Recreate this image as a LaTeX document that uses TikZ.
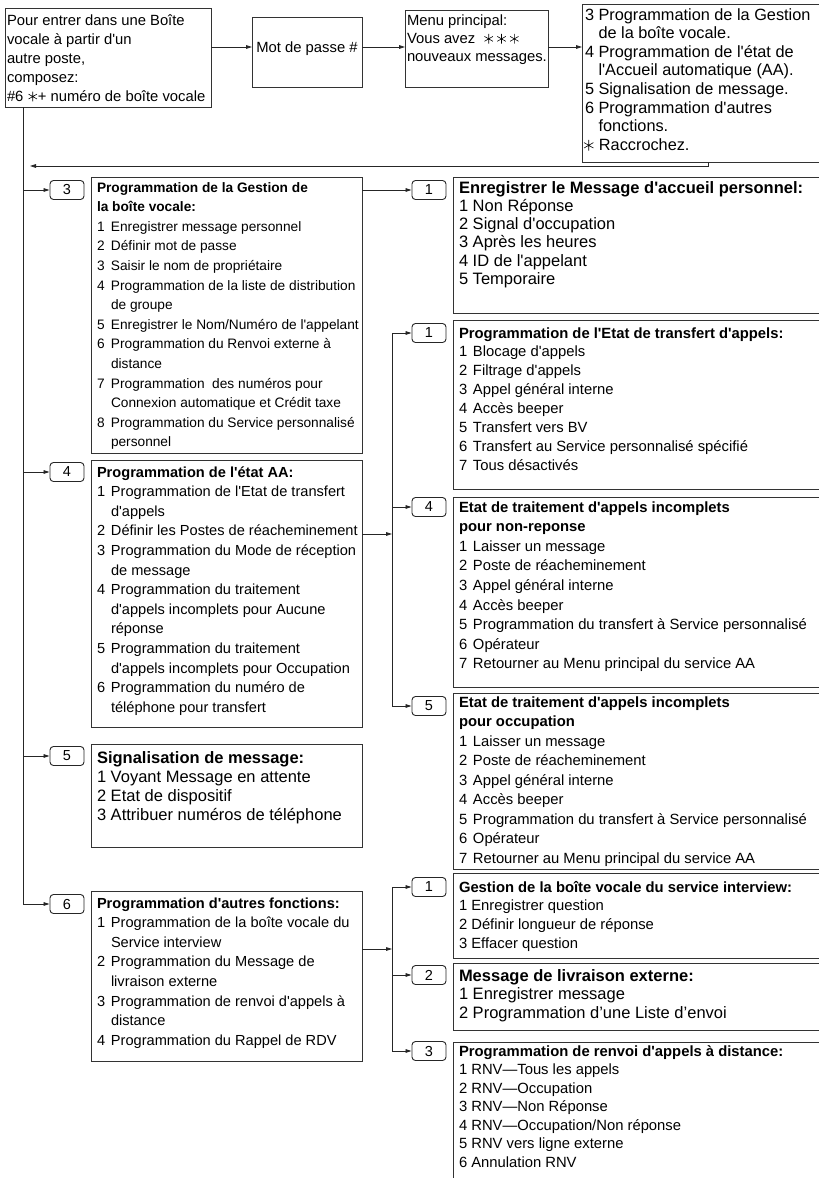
\documentclass[tikz,border=0pt]{standalone}
\usepackage{fontspec}
\setmainfont{Liberation Sans}
\usetikzlibrary{arrows.meta,fit}
\newcommand\aq{\textquotesingle}
\newcommand\fs[2]{\fontsize{#1}{#2}\selectfont}
\def\hind{14pt}
\newcommand\pl[1]{\hbox{#1}}
\newcommand\ttl[1]{\hbox{\bfseries #1}}
\newcommand\en[2]{\hbox{\makebox[\hind][l]{#1}#2}}
\newcommand\cn[1]{\hbox{\hspace*{\hind}#1}}
\newcommand\sx{\tikz[baseline=0pt,x=1pt,y=1pt,line width=0.6pt]{\path (0,-0.05em) rectangle (0.7em,0.65em);\draw (0.35em,-0.03em)--(0.35em,0.63em) (0.064em,0.135em)--(0.636em,0.465em) (0.064em,0.465em)--(0.636em,0.135em);}}
\begin{document}
\begin{tikzpicture}[x=1pt,y=-1pt,
  box/.style={draw=black!80,line width=0.9pt,inner sep=0pt,outer sep=0pt},
  key/.style={draw=black!85,line width=0.9pt,rounded corners=3.5pt,minimum width=34pt,minimum height=19pt,inner sep=0pt,font=\fs{14.5}{16}},
  txt/.style={anchor=base west,inner sep=0pt,outer sep=0pt},
  ln/.style={draw=black!85,line width=0.8pt},
  arr/.style={ln,-{Triangle[length=6pt,width=3.6pt]}}]
\useasboundingbox (0,0) rectangle (819,1178);
\clip (0,0) rectangle (819,1178);
% ---------- top row ----------
\node[box,fit={(5,8) (211,107)}] (A) {};
\node[txt] (tA) at (7,25) {\fs{14.8}{19}\vtop{%
\pl{Pour entrer dans une Boîte}
\pl{vocale à partir d\aq un}
\pl{autre poste,}
\pl{composez:}
\pl{\#6 \sx+ numéro de boîte vocale}}};
\node[box,fit={(252,17) (362,87)}] (P) {};
\node[anchor=base,inner sep=0pt,font=\fs{14.8}{18}] (tP) at (307,52) {Mot de passe \#};
\node[box,fit={(405,10) (548,87)}] (M) {};
\node[txt] (tM) at (407,25) {\fs{14.8}{18.3}\vtop{%
\pl{Menu principal:}
\pl{Vous avez \ \sx\,\sx\,\sx}
\pl{nouveaux messages.}}};
\node[box,fit={(582,4) (830,162)}] (O) {};
\node[txt] (tO) at (585,20) {\def\hind{13.5pt}\fs{16.3}{18.6}\vtop{%
\en{3}{Programmation de la Gestion}
\cn{de la boîte vocale.}
\en{4}{Programmation de l\aq état de}
\cn{l\aq Accueil automatique (AA).}
\en{5}{Signalisation de message.}
\en{6}{Programmation d\aq autres}
\cn{fonctions.}
\pl{\hspace*{-2pt}\sx\ Raccrochez.}}};
\coordinate (ya) at (0,47);
\draw[arr] (A.east |- ya) -- (P.west |- ya);
\draw[arr] (P.east |- ya) -- (M.west |- ya);
\draw[arr] (M.east |- ya) -- (O.west |- ya);
% return line
\coordinate (r0) at (708,162);
\coordinate (r1) at (30,166);
\draw[arr] (r0) |- (r1);
% ---------- left column ----------
\node[key] (k3) at (67,190) {3};
\node[key] (k4) at (67,472) {4};
\node[key] (k5) at (67,756) {5};
\node[key] (k6) at (67,904) {6};
\coordinate (t0) at (23,107);
\draw[arr] (t0) |- (k6.west);
\draw[arr] (k3.west -| t0) -- (k3.west);
\draw[arr] (k4.west -| t0) -- (k4.west);
\draw[arr] (k5.west -| t0) -- (k5.west);
\node[box,fit={(91,177) (362,453)}] (B3) {};
\node[txt] (tB3) at (97,192) {\fs{13.7}{19.6}\vtop{%
\ttl{Programmation de la Gestion de}
\ttl{la boîte vocale:}
\en{1}{Enregistrer message personnel}
\en{2}{Définir mot de passe}
\en{3}{Saisir le nom de propriétaire}
\en{4}{Programmation de la liste de distribution}
\cn{de groupe}
\en{5}{Enregistrer le Nom/Numéro de l\aq appelant}
\en{6}{Programmation du Renvoi externe à}
\cn{distance}
\en{7}{Programmation\ \ des numéros pour}
\cn{Connexion automatique et Crédit taxe}
\en{8}{Programmation du Service personnalisé}
\cn{personnel}}};
\node[box,fit={(91,460) (362,727)}] (B4) {};
\node[txt] (tB4) at (97,477) {\fs{14.6}{19.6}\vtop{%
\ttl{Programmation de l\aq état AA:}
\en{1}{Programmation de l\aq Etat de transfert}
\cn{d\aq appels}
\en{2}{Définir les Postes de réacheminement}
\en{3}{Programmation du Mode de réception}
\cn{de message}
\en{4}{Programmation du traitement}
\cn{d\aq appels incomplets pour Aucune}
\cn{réponse}
\en{5}{Programmation du traitement}
\cn{d\aq appels incomplets pour Occupation}
\en{6}{Programmation du numéro de}
\cn{téléphone pour transfert}}};
\node[box,fit={(91,744) (362,847)}] (B5) {};
\node[txt] (tB5) at (97,763) {\fs{16.5}{19}\vtop{%
\ttl{Signalisation de message:}
\pl{1 Voyant Message en attente}
\pl{2 Etat de dispositif}
\pl{3 Attribuer numéros de téléphone}}};
\node[box,fit={(91,891) (362,1061)}] (B6) {};
\node[txt] (tB6) at (97,908) {\fs{14.6}{19.6}\vtop{%
\ttl{Programmation d\aq autres fonctions:}
\en{1}{Programmation de la boîte vocale du}
\cn{Service interview}
\en{2}{Programmation du Message de}
\cn{livraison externe}
\en{3}{Programmation de renvoi d\aq appels à}
\cn{distance}
\en{4}{Programmation du Rappel de RDV}}};
% ---------- right column ----------
\node[key] (q1) at (429,190) {1};
\node[key] (q2) at (429,333) {1};
\node[key] (q3) at (429,507) {4};
\node[key] (q4) at (429,706) {5};
\node[key] (q5) at (429,887) {1};
\node[key] (q6) at (429,975) {2};
\node[key] (q7) at (429,1051) {3};
\draw[arr] (B3.east |- q1.west) -- (q1.west);
\coordinate (v1) at (392,534);
\coordinate (v2) at (392,949);
\draw[arr] (B4.east |- v1) -- (v1);
\draw[ln] (q2.west -| v1) -- (q4.west -| v1);
\draw[arr] (q2.west -| v1) -- (q2.west);
\draw[arr] (q3.west -| v1) -- (q3.west);
\draw[arr] (q4.west -| v1) -- (q4.west);
\draw[arr] (B6.east |- v2) -- (v2);
\draw[ln] (q5.west -| v2) -- (q7.west -| v2);
\draw[arr] (q5.west -| v2) -- (q5.west);
\draw[arr] (q6.west -| v2) -- (q6.west);
\draw[arr] (q7.west -| v2) -- (q7.west);
\node[box,fit={(453,177) (830,313)}] (R1) {};
\node[txt] (tR1) at (459,193) {\fs{16.5}{18.3}\vtop{%
\ttl{Enregistrer le Message d\aq accueil personnel:}
\pl{1 Non Réponse}
\pl{2 Signal d\aq occupation}
\pl{3 Après les heures}
\pl{4 ID de l\aq appelant}
\pl{5 Temporaire}}};
\node[box,fit={(453,320) (830,489)}] (R2) {};
\node[txt] (tR2) at (459,338) {\fs{14.8}{18.9}\vtop{%
\ttl{Programmation de l\aq Etat de transfert d\aq appels:}
\en{1}{Blocage d\aq appels}
\en{2}{Filtrage d\aq appels}
\en{3}{Appel général interne}
\en{4}{Accès beeper}
\en{5}{Transfert vers BV}
\en{6}{Transfert au Service personnalisé spécifié}
\en{7}{Tous désactivés}}};
\node[box,fit={(453,497) (830,687)}] (R3) {};
\node[txt] (tR3) at (459,512) {\fs{14.8}{19.6}\vtop{%
\ttl{Etat de traitement d\aq appels incomplets}
\ttl{pour non-reponse}
\en{1}{Laisser un message}
\en{2}{Poste de réacheminement}
\en{3}{Appel général interne}
\en{4}{Accès beeper}
\en{5}{Programmation du transfert à Service personnalisé}
\en{6}{Opérateur}
\en{7}{Retourner au Menu principal du service AA}}};
\node[box,fit={(453,693) (830,869)}] (R4) {};
\node[txt] (tR4) at (459,707) {\fs{14.8}{19.5}\vtop{%
\ttl{Etat de traitement d\aq appels incomplets}
\ttl{pour occupation}
\en{1}{Laisser un message}
\en{2}{Poste de réacheminement}
\en{3}{Appel général interne}
\en{4}{Accès beeper}
\en{5}{Programmation du transfert à Service personnalisé}
\en{6}{Opérateur}
\en{7}{Retourner au Menu principal du service AA}}};
\node[box,fit={(453,873) (830,958)}] (R5) {};
\node[txt] (tR5) at (459,892) {\fs{14.8}{18.7}\vtop{%
\ttl{Gestion de la boîte vocale du service interview:}
\pl{1 Enregistrer question}
\pl{2 Définir longueur de réponse}
\pl{3 Effacer question}}};
\node[box,fit={(453,963) (830,1030)}] (R6) {};
\node[txt] (tR6) at (459,981) {\fs{16.5}{18.5}\vtop{%
\ttl{Message de livraison externe:}
\pl{1 Enregistrer message}
\pl{2 Programmation d’une Liste d’envoi}}};
\node[box,fit={(453,1042) (830,1200)}] (R7) {};
\node[txt] (tR7) at (459,1056) {\fs{14.8}{18.5}\vtop{%
\ttl{Programmation de renvoi d\aq appels à distance:}
\pl{1 RNV—Tous les appels}
\pl{2 RNV—Occupation}
\pl{3 RNV—Non Réponse}
\pl{4 RNV—Occupation/Non réponse}
\pl{5 RNV vers ligne externe}
\pl{6 Annulation RNV}}};
\end{tikzpicture}
\end{document}
